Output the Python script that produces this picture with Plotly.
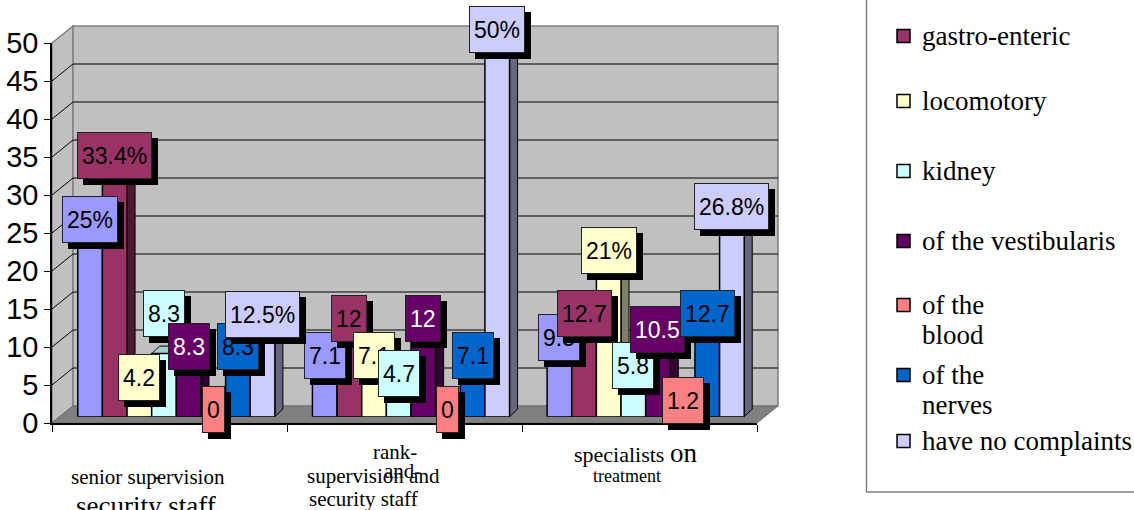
import plotly.graph_objects as go

# ---------------- data ----------------
categories = ["senior supervision security staff",
              "rank-and-file supervision and security staff",
              "specialists on treatment"]

s_first = [25, 7.1, 9.5]            # first series (its legend entry is cut off)
gastro_enteric = [33.4, 12, 12.7]
locomotory = [4.2, 7.1, 21]
kidney = [8.3, 4.7, 5.8]
vestibularis = [8.3, 12, 10.5]
blood = [0, 0, 1.2]
nerves = [8.3, 7.1, 12.7]
no_complaints = [12.5, 50, 26.8]

series_names = ["", "gastro-enteric", "locomotory", "kidney",
                "of the vestibularis", "of the<br>blood", "of the<br>nerves",
                "have no complaints"]
series_values = [s_first, gastro_enteric, locomotory, kidney,
                 vestibularis, blood, nerves, no_complaints]

label_texts = [
    ["25%", "7.1", "9.5"],
    ["33.4%", "12", "12.7"],
    ["4.2", "7.1", "21%"],
    ["8.3", "4.7", "5.8"],
    ["8.3", "12", "10.5"],
    ["0", "0", "1.2"],
    ["8.3", "7.1", "12.7"],
    ["12.5%", "50%", "26.8%"],
]
y_ticks = [0, 5, 10, 15, 20, 25, 30, 35, 40, 45, 50]

# ---------------- style ----------------
colors = ["#9999FF", "#993366", "#FFFFCC", "#CCFFFF",
          "#660066", "#FF8080", "#0066CC", "#CCCCFF"]
text_colors = ["black", "black", "black", "black",
               "white", "black", "black", "black"]
label_nudge = {(3, 0): 33}   # manually moved data label (series, category): px up
SERIF = "Liberation Serif, Times New Roman, DejaVu Serif, serif"
SANS = "Liberation Sans, Arial, sans-serif"

W, H = 1134, 510
def px(x): return x / W
def py(y): return 1 - y / H

def shade(hexcol, f):
    r = int(hexcol[1:3], 16); g = int(hexcol[3:5], 16); b = int(hexcol[5:7], 16)
    return "#%02X%02X%02X" % (int(r * f), int(g * f), int(b * f))

n_series = len(series_values)
group_frac = 0.84
w = group_frac / n_series
bar_px_per_x = (763 - 59) / 3.0
bar_px_per_y = (416.7 - 36.7) / 50.0
dx = 8 / bar_px_per_x
dy = 7.5 / bar_px_per_y

fig = go.Figure()

# 3D side and top faces (base subplot, beneath the bar fronts)
for k, vals in enumerate(series_values):
    sx, sy, tx, ty = [], [], [], []
    for c, v in enumerate(vals):
        xl = c - group_frac / 2 + w * k
        xr = xl + w
        sx += [xr, xr + dx, xr + dx, xr, xr, None]
        sy += [0, dy, v + dy, v, 0, None]
        tx += [xl, xr, xr + dx, xl + dx, xl, None]
        ty += [v, v, v + dy, v + dy, v, None]
    fig.add_trace(go.Scatter(x=sx, y=sy, mode="lines", fill="toself",
                             fillcolor=shade(colors[k], 0.5),
                             line=dict(color="black", width=1),
                             xaxis="x", yaxis="y", showlegend=False, hoverinfo="skip"))
    fig.add_trace(go.Scatter(x=tx, y=ty, mode="lines", fill="toself",
                             fillcolor=shade(colors[k], 0.8),
                             line=dict(color="black", width=1),
                             xaxis="x", yaxis="y", showlegend=False, hoverinfo="skip"))

# bar fronts (overlay subplot, above the faces)
for k, vals in enumerate(series_values):
    fig.add_trace(go.Bar(x=[0, 1, 2], y=vals, width=w,
                         offset=-group_frac / 2 + w * k,
                         marker=dict(color=colors[k], line=dict(color="black", width=1.5)),
                         name=series_names[k].replace("<br>", " "),
                         xaxis="x", yaxis="y2", showlegend=False, hoverinfo="skip"))

# dummy trace for the front (tick) axes
fig.add_trace(go.Scatter(x=[None], y=[None], xaxis="x2", yaxis="y3",
                         showlegend=False, hoverinfo="skip"))

shapes = []
wall = "#C0C0C0"
edge = "#808080"
shapes.append(dict(type="path", xref="paper", yref="paper", layer="below",
                   path=f"M {px(52)},{py(43)} L {px(73)},{py(26)} L {px(73)},{py(406)} L {px(52)},{py(423)} Z",
                   fillcolor=wall, line=dict(color=edge, width=1.5)))
shapes.append(dict(type="rect", xref="paper", yref="paper", layer="below",
                   x0=px(73), x1=px(778), y0=py(406), y1=py(26),
                   fillcolor=wall, line=dict(color=edge, width=1.5)))
shapes.append(dict(type="path", xref="paper", yref="paper", layer="below",
                   path=f"M {px(52)},{py(423)} L {px(73)},{py(406)} L {px(778)},{py(406)} L {px(757)},{py(423)} Z",
                   fillcolor="#808080", line=dict(color="#707070", width=1)))
for v in y_ticks[1:-1]:
    shapes.append(dict(type="line", xref="paper", yref="y3", layer="below",
                       ysizemode="pixel", yanchor=v,
                       x0=px(73), x1=px(778), y0=17, y1=17,
                       line=dict(color="black", width=1)))
    shapes.append(dict(type="line", xref="paper", yref="y3", layer="below",
                       ysizemode="pixel", yanchor=v,
                       x0=px(52), x1=px(73), y0=0, y1=17,
                       line=dict(color="black", width=1)))

# legend box
shapes.append(dict(type="rect", xref="paper", yref="paper",
                   x0=px(866.5), x1=px(1145), y0=py(492), y1=py(-10),
                   line=dict(color="#808080", width=1.5), fillcolor="rgba(0,0,0,0)"))

annotations = []
# data labels with drop shadows
for k, vals in enumerate(series_values):
    for c, v in enumerate(vals):
        xc = c - group_frac / 2 + w * (k + 0.5)
        ys = 7 + label_nudge.get((k, c), 0)
        common = dict(x=xc, y=v, xref="x", yref="y", text=label_texts[k][c],
                      showarrow=False, borderwidth=1, borderpad=4, height=37,
                      xanchor="center", yanchor="middle")
        annotations.append(dict(common, bgcolor="black", bordercolor="black",
                                font=dict(family=SANS, size=23, color="black"),
                                xshift=6, yshift=ys - 6))
        annotations.append(dict(common, bgcolor=colors[k], bordercolor="#222222",
                                font=dict(family=SANS, size=23, color=text_colors[k]),
                                yshift=ys))

def ptext(x, y, text, size, anchor="center"):
    annotations.append(dict(x=px(x), y=py(y), xref="paper", yref="paper", text=text,
                            showarrow=False, xanchor=anchor, yanchor="middle",
                            font=dict(family=SERIF, size=size, color="black")))

# category labels (as rendered in the original, wrapped and overlapping)
ptext(148, 477, "senior supervision", 21)
ptext(157, 476, "-", 21)
ptext(146, 506, "security staff", 27)
ptext(395, 452, "rank-", 21)
ptext(373.5, 476, "supervision and", 21)
ptext(402, 471, "and-", 21)
ptext(363, 499, "security staff", 21)
ptext(635, 453, "specialists <span style='font-size:27px'>on</span>", 22)
ptext(627, 476, "treatment", 18)

# legend (first entry is cut off above the top edge)
legend_y = [36, 101, 171, 241, 305, 375, 441]
for i, k in enumerate(range(1, n_series)):
    yc = legend_y[i]
    shapes.append(dict(type="rect", xref="paper", yref="paper",
                       x0=px(897), x1=px(910), y0=py(yc + 6.5), y1=py(yc - 6.5),
                       fillcolor=colors[k], line=dict(color="black", width=1.5)))
    for j, line in enumerate(series_names[k].split("<br>")):
        ptext(920, yc + 30 * j, line, 27, anchor="left")

fig.update_layout(
    width=W, height=H,
    margin=dict(l=0, r=0, t=0, b=0, pad=0, autoexpand=False),
    paper_bgcolor="white", plot_bgcolor="rgba(0,0,0,0)",
    barmode="overlay",
    showlegend=False,
    xaxis=dict(domain=[px(59), px(763)], range=[-0.5, 2.5], visible=False,
               anchor="y", fixedrange=True),
    yaxis=dict(domain=[py(416.7), py(36.7)], range=[0, 50], visible=False,
               anchor="x", fixedrange=True),
    yaxis2=dict(overlaying="y", range=[0, 50], visible=False, anchor="x"),
    xaxis2=dict(domain=[px(52), px(757)], range=[-0.5, 2.5], anchor="y3",
                showline=True, linecolor="black", linewidth=1.5,
                ticks="outside", tickvals=[-0.5, 0.5, 1.5, 2.5], ticklen=7,
                tickcolor="black", tickwidth=1, showticklabels=False,
                showgrid=False, zeroline=False, automargin=False),
    yaxis3=dict(domain=[py(423), py(43)], range=[0, 50], anchor="x2",
                tickvals=y_ticks, ticks="outside", ticklen=6, tickcolor="black",
                tickwidth=1, showline=True, linecolor="black", linewidth=1.5,
                showgrid=False, zeroline=False, automargin=False,
                tickfont=dict(family=SANS, size=29, color="black")),
    shapes=shapes,
    annotations=annotations,
)

fig.write_html("out.html")
